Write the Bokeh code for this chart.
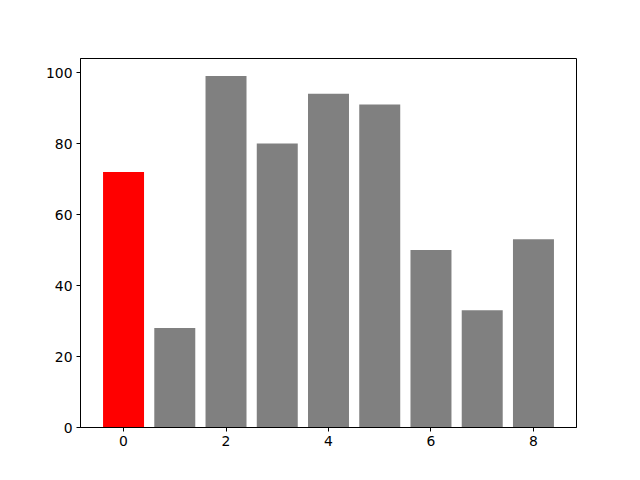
from bokeh.plotting import figure
from bokeh.models import ColumnDataSource, FixedTicker, Range1d
from bokeh.embed import file_html
from bokeh.resources import INLINE

xs = [0, 1, 2, 3, 4, 5, 6, 7, 8]
values = [72, 28, 99, 80, 94, 91, 50, 33, 53]
colors = ["red", "gray", "gray", "gray", "gray", "gray", "gray", "gray", "gray"]
x_ticks = [0, 2, 4, 6, 8]
y_ticks = [0, 20, 40, 60, 80, 100]

src = ColumnDataSource(dict(x=xs, top=values, color=colors))

p = figure(output_backend="svg", toolbar_location=None,
           frame_width=496, frame_height=369,
           min_border_left=80, min_border_right=48,
           min_border_top=58, min_border_bottom=37,
           x_range=Range1d(-0.84, 8.84), y_range=Range1d(0, 103.95))
p.vbar(x="x", top="top", bottom=0, width=0.8, fill_color="color",
       line_color=None, source=src)

p.xgrid.visible = False
p.ygrid.visible = False
p.outline_line_color = "black"
p.outline_line_width = 1
p.outline_line_alpha = 1
p.background_fill_color = "white"
p.border_fill_color = "white"

p.xaxis.ticker = FixedTicker(ticks=x_ticks)
p.yaxis.ticker = FixedTicker(ticks=y_ticks)
for ax in (p.xaxis, p.yaxis):
    ax.major_tick_in = 0
    ax.major_tick_out = 4
    ax.minor_tick_in = 0
    ax.minor_tick_out = 0
    ax.axis_line_color = "black"
    ax.major_tick_line_color = "black"
    ax.major_label_text_font = "DejaVu Sans"
    ax.major_label_text_font_size = "13.9px"
    ax.major_label_text_color = "black"
    ax.major_label_standoff = 4

open("out.html", "w").write(file_html(p, INLINE))
